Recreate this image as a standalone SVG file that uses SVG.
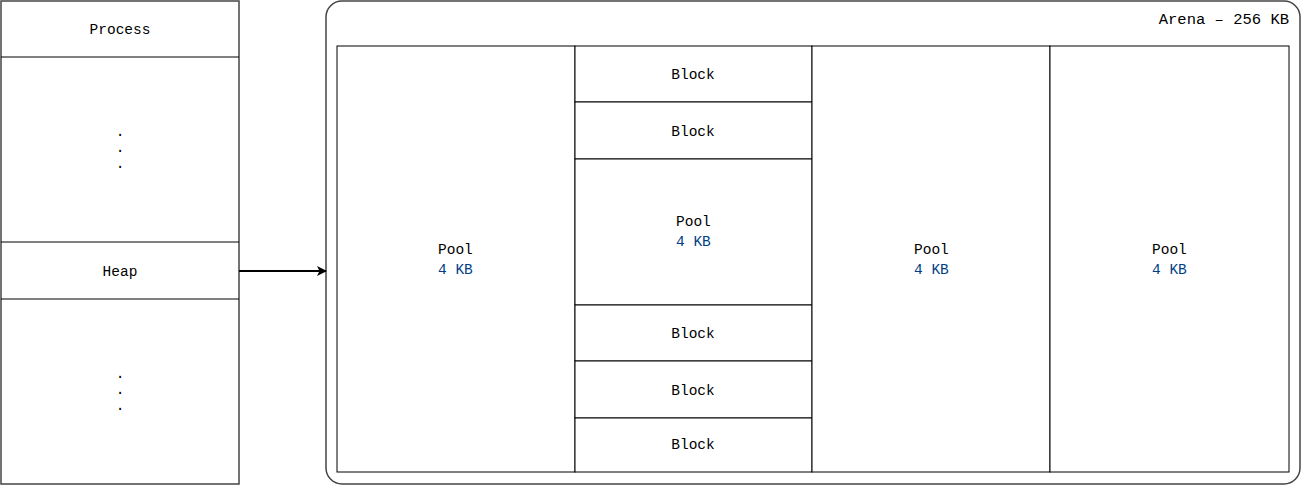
<svg xmlns="http://www.w3.org/2000/svg" width="1301" height="485" viewBox="0 0 1301 485">
<defs>
<style>
text{font-family:"Liberation Mono","DejaVu Sans Mono",monospace;font-size:14.5px;fill:#000}
.c{text-anchor:middle;dominant-baseline:central}
.l{dominant-baseline:central}
.kb{fill:#003f85}
.box{fill:#fff;stroke:#000;stroke-width:1}
.outer{fill:#fff;stroke:#444;stroke-width:1.5}
</style>
<marker id="arr" markerWidth="10" markerHeight="10" refX="9" refY="5" orient="auto" markerUnits="userSpaceOnUse">
<path d="M0,0 L10,5 L0,10 L2.5,5 Z" fill="#000"/>
</marker>
</defs>
<rect width="1301" height="485" fill="#fff"/>
<g id="process">
<rect class="outer" x="1" y="1" width="238" height="483"/>
<line x1="1" y1="57" x2="239" y2="57" stroke="#000"/>
<line x1="1" y1="242" x2="239" y2="242" stroke="#000"/>
<line x1="1" y1="299" x2="239" y2="299" stroke="#000"/>
<text class="c" x="120" y="30">Process</text>
<text class="c" x="120" y="132">.</text>
<text class="c" x="120" y="148">.</text>
<text class="c" x="120" y="164">.</text>
<text class="c" x="120" y="272">Heap</text>
<text class="c" x="120" y="374">.</text>
<text class="c" x="120" y="390">.</text>
<text class="c" x="120" y="406">.</text>
</g>
<g id="arena">
<rect class="outer" x="326" y="1" width="974" height="483" rx="16" ry="16"/>
<text x="1289" y="20" text-anchor="end" dominant-baseline="central" style="font-size:15.5px">Arena – 256 KB</text>
</g>
<g id="pool1">
<rect class="box" x="337" y="46" width="238" height="426"/>
<text class="l" x="438" y="250">Pool</text>
<text class="l kb" x="438" y="270">4 KB</text>
</g>
<g id="block1"><rect class="box" x="575" y="46" width="237" height="56"/><text class="c" x="693" y="75">Block</text></g>
<g id="block2"><rect class="box" x="575" y="102" width="237" height="57"/><text class="c" x="693" y="132">Block</text></g>
<g id="pool2">
<rect class="box" x="575" y="159" width="237" height="146"/>
<text class="l" x="676" y="222">Pool</text>
<text class="l kb" x="676" y="242">4 KB</text>
</g>
<g id="block3"><rect class="box" x="575" y="305" width="237" height="56"/><text class="c" x="693" y="334">Block</text></g>
<g id="block4"><rect class="box" x="575" y="361" width="237" height="57"/><text class="c" x="693" y="391">Block</text></g>
<g id="block5"><rect class="box" x="575" y="418" width="237" height="54"/><text class="c" x="693" y="445">Block</text></g>
<g id="pool3">
<rect class="box" x="812" y="46" width="238" height="426"/>
<text class="l" x="914" y="250">Pool</text>
<text class="l kb" x="914" y="270">4 KB</text>
</g>
<g id="pool4">
<rect class="box" x="1050" y="46" width="239" height="426"/>
<text class="l" x="1152" y="250">Pool</text>
<text class="l kb" x="1152" y="270">4 KB</text>
</g>
<g id="connectors">
<line x1="239" y1="271" x2="326" y2="271" stroke="#000" stroke-width="2" marker-end="url(#arr)"/>
</g>
</svg>
